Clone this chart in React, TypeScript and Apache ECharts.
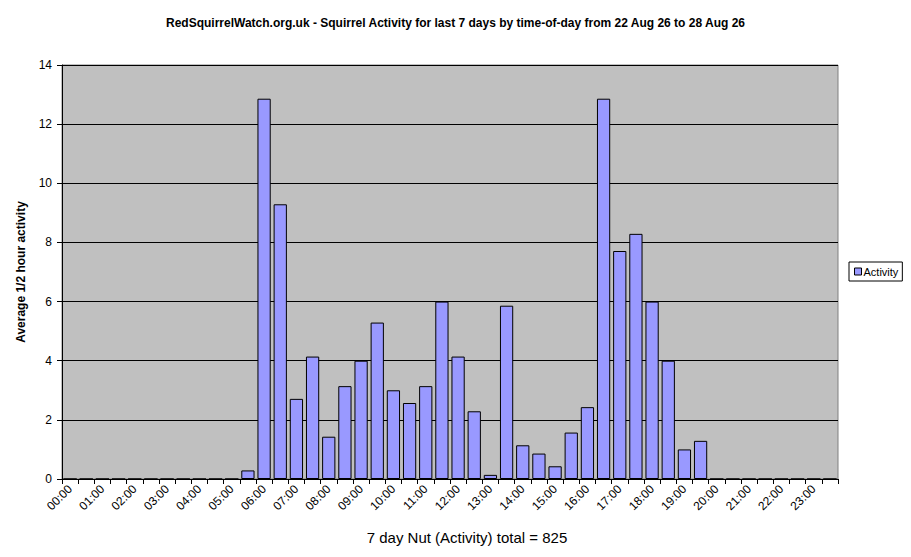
import * as echarts from "echarts";
import { useEffect, useRef } from "react";

// half-hour slots, labelled every hour on the axis
const slots: string[] = [
  "00:00", "00:30", "01:00", "01:30", "02:00", "02:30", "03:00", "03:30",
  "04:00", "04:30", "05:00", "05:30", "06:00", "06:30", "07:00", "07:30",
  "08:00", "08:30", "09:00", "09:30", "10:00", "10:30", "11:00", "11:30",
  "12:00", "12:30", "13:00", "13:30", "14:00", "14:30", "15:00", "15:30",
  "16:00", "16:30", "17:00", "17:30", "18:00", "18:30", "19:00", "19:30",
  "20:00", "20:30", "21:00", "21:30", "22:00", "22:30", "23:00", "23:30",
];

// average visits per half hour over the 7 days
const activity: number[] = [
  0, 0, 0, 0, 0, 0, 0, 0,
  0, 0, 0, 0.29, 12.86, 9.29, 2.71, 4.14,
  1.43, 3.14, 4, 5.29, 3, 2.57, 3.14, 6,
  4.14, 2.29, 0.14, 5.86, 1.14, 0.86, 0.43, 1.57,
  2.43, 12.86, 7.71, 8.29, 6, 4, 1, 1.29,
  0, 0, 0, 0, 0, 0, 0, 0,
];

const yTicks = { min: 0, max: 14, interval: 2 };

const titleText =
  "RedSquirrelWatch.org.uk - Squirrel Activity for last 7 days by time-of-day from 22 Aug 26 to 28 Aug 26";
const footText = "7 day Nut (Activity) total = 825";

const font = "Arial, 'Liberation Sans', sans-serif";

const getOptions = (): echarts.EChartsOption => ({
  animation: false,
  backgroundColor: "#ffffff",
  textStyle: { fontFamily: font },
  title: {
    text: titleText,
    left: "center",
    top: 12,
    textStyle: { fontSize: 12, fontWeight: "bold", color: "#000", fontFamily: font },
  },
  legend: {
    data: ["Activity"],
    orient: "vertical",
    left: 849,
    top: 262,
    padding: [4, 4, 4, 5],
    borderColor: "#000",
    borderWidth: 1,
    backgroundColor: "#fff",
    icon: "rect",
    itemWidth: 7,
    itemHeight: 7,
    itemGap: 0,
    itemStyle: { color: "#9999ff", borderColor: "#000", borderWidth: 1 },
    textStyle: { fontSize: 11, color: "#000", padding: [0, 0, 0, -3] },
  },
  grid: {
    left: 62,
    right: 73,
    top: 65,
    bottom: 78,
    show: true,
    backgroundColor: "#c0c0c0",
    borderColor: "#808080",
    borderWidth: 1,
  },
  xAxis: {
    type: "category",
    data: slots,
    boundaryGap: true,
    axisLine: { lineStyle: { color: "#000", width: 1 } },
    axisTick: { show: true, interval: 0, length: 5, lineStyle: { color: "#000" } },
    axisLabel: {
      interval: 1,
      rotate: 45,
      fontSize: 12,
      color: "#000",
      margin: 8,
    },
    splitLine: { show: false },
  },
  yAxis: {
    type: "value",
    ...yTicks,
    name: "Average 1/2 hour activity",
    nameLocation: "middle",
    nameGap: 35,
    nameTextStyle: { fontSize: 12, fontWeight: "bold", color: "#000" },
    axisLine: { show: true, lineStyle: { color: "#000", width: 1 } },
    axisTick: { show: true, length: 5, lineStyle: { color: "#000" } },
    axisLabel: { fontSize: 12, color: "#000", margin: 10 },
    splitLine: { show: true, lineStyle: { color: "#000", width: 1 } },
  },
  series: [
    {
      name: "Activity",
      type: "bar",
      data: activity,
      barCategoryGap: "18%",
      itemStyle: { color: "#9999ff", borderColor: "#000", borderWidth: 1 },
    },
  ],
  graphic: [
    {
      type: "text",
      x: 467,
      y: 537,
      style: {
        text: footText,
        fontSize: 15,
        fontFamily: font,
        fill: "#000",
        align: "center",
        verticalAlign: "middle",
      },
    },
  ],
});

export default function App() {
  const chartRef = useRef<HTMLDivElement | null>(null);

  useEffect(() => {
    if (!chartRef.current) return;
    const myChart = echarts.init(chartRef.current, null, { renderer: "svg" });
    myChart.setOption(getOptions());
    return () => {
      myChart.dispose();
    };
  }, []);

  return (
    <div
      ref={chartRef}
      style={{ width: 911, height: 557, position: "absolute", left: 0, top: 0 }}
    />
  );
}
